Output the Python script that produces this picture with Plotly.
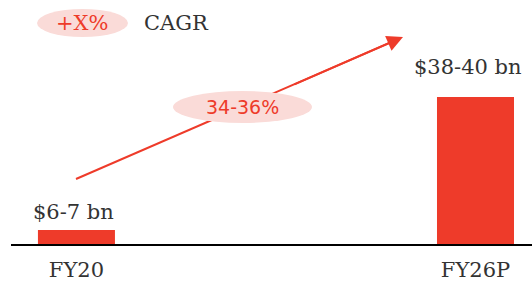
import plotly.graph_objects as go

categories = ["FY20", "FY26P"]
bar_heights = [3.7, 39]          # drawn heights (chart is not to scale)
value_labels = ["$6-7 bn", "$38-40 bn"]
cagr_label = "34-36%"
legend_badge = "+X%"
legend_text = "CAGR"

W, H = 532, 281
ML, MR, MT, MB = 11, 0, 0, 37
PW, PH = W - ML - MR, H - MT - MB

def px(x):
    return (x - ML) / PW

def py(y):
    return (H - MB - y) / PH

RED = "#EE3B2A"
PINK = "#FADBD8"
SERIF = "DejaVu Serif"
TXT = "#333333"

fig = go.Figure()
fig.add_trace(go.Bar(x=categories, y=bar_heights, marker=dict(color=RED, line=dict(width=0)),
                     width=0.193, hoverinfo="skip"))

shapes = [
    # arrow shaft
    dict(type="line", xref="paper", yref="paper", x0=px(76), y0=py(179), x1=px(395), y1=py(40.5),
         line=dict(color=RED, width=2), layer="below"),
    # CAGR ellipse on arrow
    dict(type="circle", xref="paper", yref="paper", x0=px(173), x1=px(312), y0=py(123), y1=py(91),
         fillcolor=PINK, line=dict(width=0), layer="above"),
    # legend ellipse
    dict(type="circle", xref="paper", yref="paper", x0=px(37), x1=px(128), y0=py(37), y1=py(9),
         fillcolor=PINK, line=dict(width=0), layer="above"),
]

annotations = []
# arrowhead segment
annotations.append(dict(xref="paper", yref="paper", x=px(403), y=py(37), ax=-110, ay=48,
                        showarrow=True, arrowhead=2, arrowsize=1.6, arrowwidth=2, arrowcolor=RED, text=""))
annotations.append(dict(xref="paper", yref="paper", x=px(242), y=py(107), text=cagr_label,
                        xanchor="center", yanchor="middle",
                        showarrow=False, font=dict(family="DejaVu Sans", size=19, color=RED)))
annotations.append(dict(xref="paper", yref="paper", x=px(82), y=py(23), text=legend_badge,
                        xanchor="center", yanchor="middle",
                        showarrow=False, font=dict(family=SERIF, size=21, color=RED)))
annotations.append(dict(xref="paper", yref="paper", x=px(142), y=py(23), xanchor="left", yanchor="middle",
                        text=legend_text,
                        showarrow=False, font=dict(family=SERIF, size=21, color=TXT)))
shifts = [(-3, 4), (-7, 16)]
for c, v, lab, (dx, dy) in zip(categories, bar_heights, value_labels, shifts):
    annotations.append(dict(x=c, y=v, text=lab, showarrow=False, yanchor="bottom", xanchor="center",
                            xshift=dx, yshift=dy, font=dict(family=SERIF, size=21, color=TXT)))

fig.update_layout(
    width=W, height=H, margin=dict(l=ML, r=MR, t=MT, b=MB),
    paper_bgcolor="white", plot_bgcolor="white", showlegend=False,
    shapes=shapes, annotations=annotations,
    xaxis=dict(range=[-0.164, 1.1416], showline=True, linecolor="black", linewidth=2,
               showgrid=False, zeroline=False, ticks="", ticklabelstandoff=6,
               tickfont=dict(family=SERIF, size=21, color=TXT)),
    yaxis=dict(range=[0, 64.7], visible=False, showgrid=False, zeroline=False),
)
fig.write_html("out.html", config={"displayModeBar": False},
               post_script="document.body.style.margin='0';")
